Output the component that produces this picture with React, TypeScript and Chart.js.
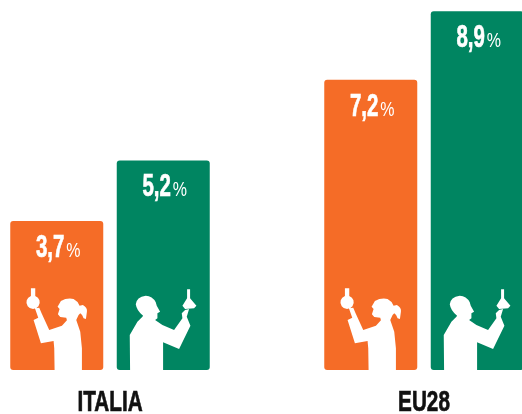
import React, { useEffect, useRef } from "react";
import { Chart, registerables } from "chart.js";

Chart.register(...registerables);

const categories = ["ITALIA", "EU28"];
const womenValues = [3.7, 7.2];
const menValues = [5.2, 8.9];
const seriesNames = ["Donne", "Uomini"];
const ORANGE = "#F56C27";
const GREEN = "#008561";
const FONT = '"Liberation Sans", Arial, sans-serif';

// Decorative silhouettes, traced in a 3x space; placed relative to each bar.
const WOMAN =
  "M103 255 L102 190 L100 168 L62 175 L40 105 L54 98 L44 70 L57 68 L64 85 L87 135 L125 122 L140 106 L138 98 L120 96 L113 88 L118 72 L112 65 L122 48 Q140 38 160 42 Q172 48 178 62 L188 60 Q202 68 200 80 L197 102 L190 100 Q186 88 180 85 L175 90 L168 105 L180 140 L185 190 L185 255 Z " +
  "M32 10 L45 10 L45 33 A20 20 0 1 1 32 33 Z";
const MAN =
  "M13 255 L12 150 L35 110 L50 95 L52 92 Q33 78 30 58 Q32 36 60 32 Q80 32 90 52 L93 62 L103 80 L95 85 L95 100 L88 105 L110 120 L145 135 L170 100 L168 85 L178 75 L190 72 L183 95 L194 122 L160 192 L112 172 L112 255 Z " +
  "M184 13 L193 13 L193 40 L212 62 L205 70 L178 72 L170 62 L184 40 Z";

const boldText = (ctx: any, text: string, color: string) => {
  ctx.fillStyle = color;
  ctx.strokeStyle = color;
  ctx.lineWidth = 0.7;
  ctx.fillText(text, 0, 0);
  ctx.strokeText(text, 0, 0);
};

const barDecor = {
  id: "barDecor",
  afterDatasetsDraw(chart: any) {
    const ctx = chart.ctx;
    chart.data.datasets.forEach((ds: any, di: number) => {
      chart.getDatasetMeta(di).data.forEach((bar: any, i: number) => {
        const left = bar.x - bar.width / 2;
        ctx.save();
        ctx.fillStyle = "#fff";
        // figure
        ctx.save();
        ctx.translate(left + (di === 0 ? 10 : 9), bar.base - 85);
        ctx.scale(1 / 3, 1 / 3);
        ctx.fill(new Path2D(di === 0 ? WOMAN : MAN));
        ctx.restore();
        // value label
        const num = String(ds.data[i]).replace(".", ",");
        const numScale = 0.66;
        const pctScale = 0.8;
        ctx.textBaseline = "alphabetic";
        ctx.textAlign = "left";
        ctx.font = `bold 31px ${FONT}`;
        const nw = ctx.measureText(num).width * numScale;
        ctx.font = `20px ${FONT}`;
        const pw = ctx.measureText("%").width * pctScale;
        const gap = 2;
        const x0 = bar.x + 1.5 - (nw + gap + pw) / 2;
        const y0 = bar.y + 36;
        ctx.save();
        ctx.translate(x0 + nw + gap, y0);
        ctx.scale(pctScale, 1);
        ctx.fillText("%", 0, 0);
        ctx.restore();
        ctx.font = `bold 31px ${FONT}`;
        ctx.translate(x0, y0);
        ctx.scale(numScale, 1);
        boldText(ctx, num, "#fff");
        ctx.restore();
      });
    });
  },
  afterDraw(chart: any) {
    // Condensed category labels, positioned by the x scale
    const ctx = chart.ctx;
    const xs = chart.scales.x;
    ctx.save();
    ctx.font = `bold 30px ${FONT}`;
    ctx.textAlign = "center";
    ctx.textBaseline = "alphabetic";
    xs.ticks.forEach((_: any, i: number) => {
      ctx.save();
      ctx.translate(xs.getPixelForTick(i), chart.chartArea.bottom + 41);
      ctx.scale(0.69, 1);
      boldText(ctx, xs.getLabelForValue(i), "#111");
      ctx.restore();
    });
    ctx.restore();
  },
};

export default function App() {
  const ref = useRef<HTMLCanvasElement>(null);
  useEffect(() => {
    document.body.style.background = "#fff";
    const chart = new Chart(ref.current!, {
      type: "bar",
      data: {
        labels: categories,
        datasets: [
          { label: seriesNames[0], data: womenValues, backgroundColor: ORANGE },
          { label: seriesNames[1], data: menValues, backgroundColor: GREEN },
        ],
      },
      plugins: [barDecor],
      options: {
        animation: false,
        responsive: false,
        layout: { padding: 0 },
        datasets: {
          bar: {
            categoryPercentage: 213 / 314,
            barPercentage: 93 / 106.5,
            borderRadius: 3,
            borderSkipped: false,
          },
        },
        plugins: { legend: { display: false }, tooltip: { enabled: false } },
        scales: {
          x: {
            grid: { display: false },
            border: { display: false },
            ticks: { display: false },
            afterFit(s: any) {
              s.height = 44;
            },
          },
          y: { display: false, min: 0, max: 370 / 40.3 },
        },
      },
    } as any);
    return () => chart.destroy();
  }, []);
  return (
    <div style={{ position: "absolute", left: 0, top: 0, width: 522, height: 414, overflow: "hidden" }}>
      <canvas
        ref={ref}
        width={628}
        height={414}
        style={{ position: "absolute", left: -47.5, top: 0, width: 628, height: 414 }}
      />
    </div>
  );
}
